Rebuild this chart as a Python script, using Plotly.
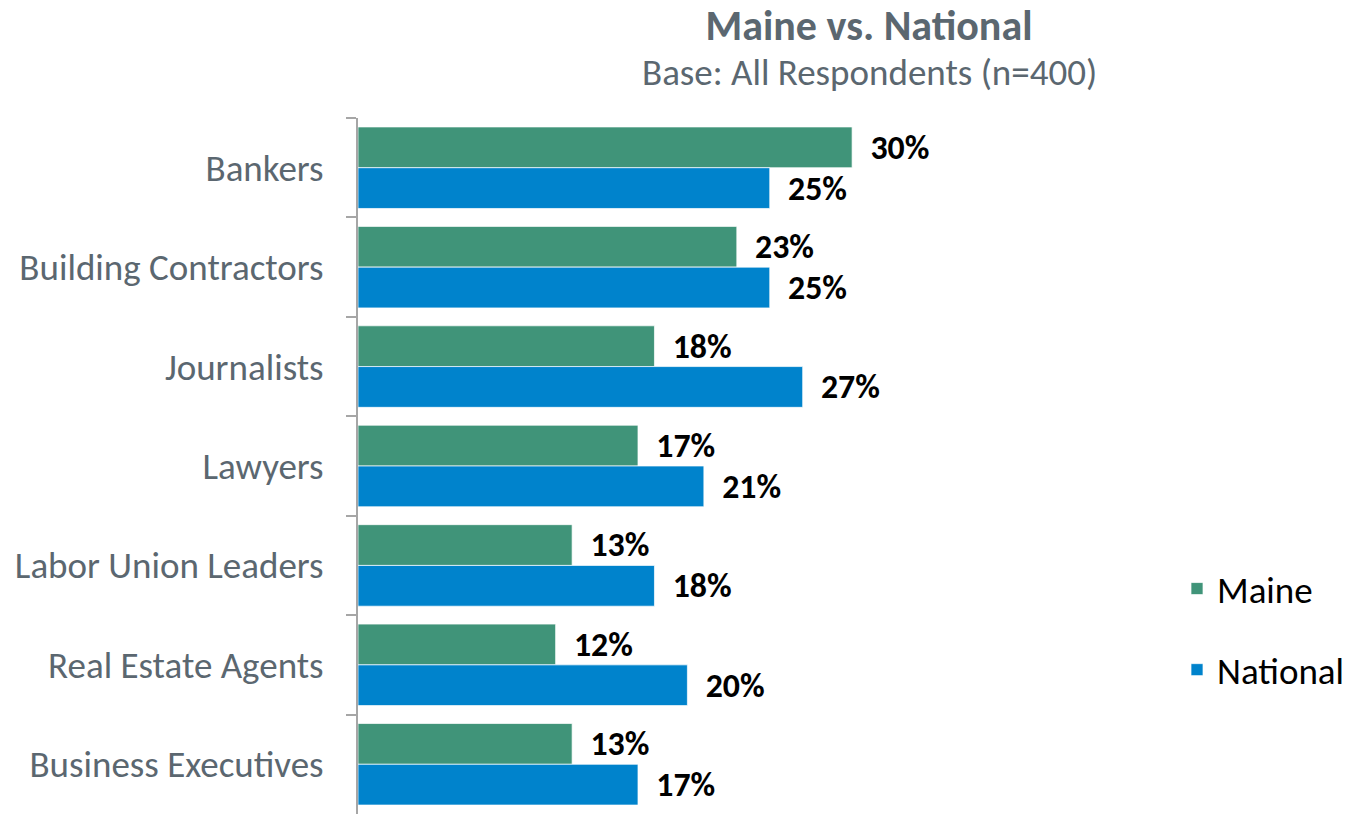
import plotly.graph_objects as go

categories = ["Bankers", "Building Contractors", "Journalists", "Lawyers",
              "Labor Union Leaders", "Real Estate Agents", "Business Executives"]
maine = [30, 23, 18, 17, 13, 12, 13]
national = [25, 25, 27, 21, 18, 20, 17]

GREEN = "#409479"
BLUE = "#0083cc"
GREY = "#5b6770"
FONT = "Carlito, Calibri, 'Open Sans', sans-serif"

fig = go.Figure()
fig.add_trace(go.Bar(
    y=categories, x=maine, name="Maine", orientation="h",
    marker=dict(color=GREEN, line=dict(color="rgba(255,255,255,0.7)", width=1)),
    texttemplate="\u00a0\u00a0%{x}%", textposition="outside", cliponaxis=False,
    textfont=dict(family=FONT, size=34, color="black", weight="bold"),
    legendgroup="a",
))
fig.add_trace(go.Bar(
    y=categories, x=national, name="National", orientation="h",
    marker=dict(color=BLUE, line=dict(color="rgba(255,255,255,0.7)", width=1)),
    texttemplate="\u00a0\u00a0%{x}%", textposition="outside", cliponaxis=False,
    textfont=dict(family=FONT, size=34, color="black", weight="bold"),
    legendgroup="b",
))

fig.update_layout(
    width=1345, height=815,
    margin=dict(l=358, r=340, t=118, b=1, autoexpand=False),
    paper_bgcolor="white", plot_bgcolor="white",
    barmode="group", bargap=0.18, bargroupgap=0,
    font=dict(family=FONT, color=GREY),
    title=dict(text="<b>Maine vs. National</b>", x=869/1345, xanchor="center",
               y=1 - 25/815, yanchor="middle",
               font=dict(family=FONT, size=42, color=GREY)),
    annotations=[dict(text="Base: All Respondents (n=400)", xref="paper", yref="paper",
                      x=(869 - 358) / 647, y=1 + (118 - 72) / 696, xanchor="center",
                      yanchor="middle", showarrow=False,
                      font=dict(family=FONT, size=37, color=GREY))],
    legend=dict(x=(1177 - 358) / 647, xanchor="left", y=(814 - 558) / 696, yanchor="top",
                font=dict(family=FONT, size=37, color="black"),
                tracegroupgap=30, traceorder="grouped",
                bgcolor="rgba(0,0,0,0)"),
    xaxis=dict(range=[0, 647 / 16.47], visible=False, showgrid=False, zeroline=False),
    yaxis=dict(autorange="reversed", showline=True, linecolor="#a6a6a6", linewidth=2,
               ticks="outside", tickson="boundaries", ticklen=10, tickcolor="#a6a6a6",
               tickwidth=2, tickfont=dict(family=FONT, size=37, color=GREY),
               showgrid=False, ticklabelstandoff=25),
)

fig.write_html("out.html")
